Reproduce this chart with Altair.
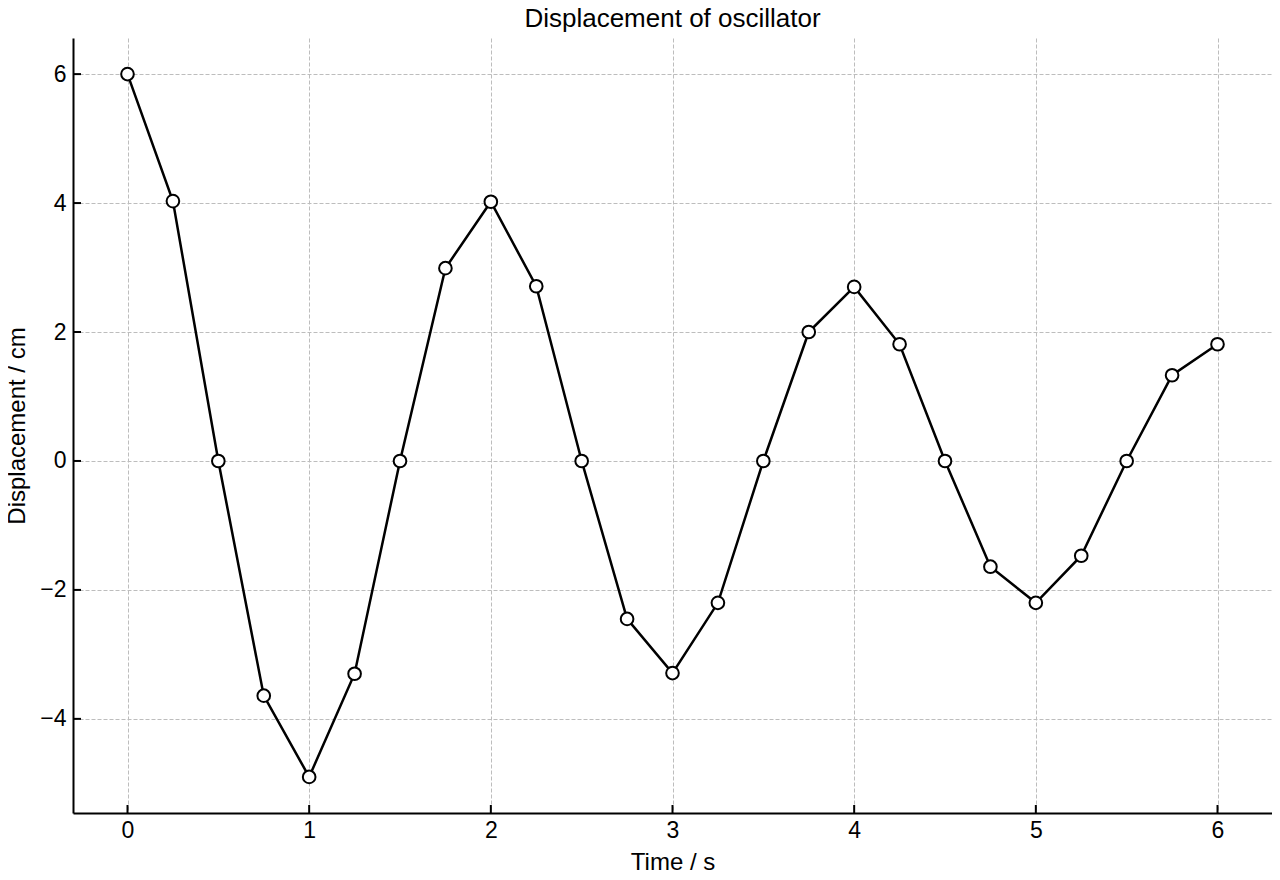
import pandas as pd
import altair as alt

# oscillator readings, every quarter second
time_s = [0, 0.25, 0.5, 0.75, 1, 1.25, 1.5, 1.75, 2, 2.25, 2.5, 2.75, 3,
          3.25, 3.5, 3.75, 4, 4.25, 4.5, 4.75, 5, 5.25, 5.5, 5.75, 6]
displacement_cm = [6.0, 4.03, 0.0, -3.64, -4.90, -3.30, 0.0, 2.99, 4.02, 2.71,
                   0.0, -2.45, -3.29, -2.20, 0.0, 2.0, 2.70, 1.81, 0.0, -1.64,
                   -2.20, -1.47, 0.0, 1.33, 1.81]

x_ticks = [0, 1, 2, 3, 4, 5, 6]
y_ticks = [-4, -2, 0, 2, 4, 6]

FONT = "Liberation Sans"
W, H = 1199, 775

df = pd.DataFrame({"t": time_s, "d": displacement_cm})
df_xt = pd.DataFrame({"t": x_ticks})
df_yt = pd.DataFrame({"d": y_ticks})

x_scale = alt.Scale(domain=[-0.3, 6.3], nice=False, zero=False)
y_scale = alt.Scale(domain=[-5.46, 6.56], nice=False, zero=False)

x_enc = alt.X(
    "t:Q",
    scale=x_scale,
    axis=alt.Axis(
        title="Time / s",
        values=x_ticks,
        format="d",
        grid=True,
        gridDash=[4, 2],
        gridColor="#bdbdbd",
        gridWidth=1,
        ticks=False,
        domainColor="black",
        domainWidth=2,
        labelPadding=6,
        titlePadding=8,
    ),
)
y_enc = alt.Y(
    "d:Q",
    scale=y_scale,
    axis=alt.Axis(
        title="Displacement / cm",
        values=y_ticks,
        format="d",
        grid=True,
        gridDash=[4, 2],
        gridColor="#bdbdbd",
        gridWidth=1,
        ticks=False,
        domainColor="black",
        domainWidth=2,
        labelPadding=7,
        titlePadding=10,
    ),
)

line = alt.Chart(df).mark_line(color="black", strokeWidth=2.5).encode(x=x_enc, y=y_enc)

points = alt.Chart(df).mark_point(
    shape="circle", filled=True, fill="white", stroke="black",
    strokeWidth=2, size=160, opacity=1,
).encode(x=alt.X("t:Q", scale=x_scale), y=alt.Y("d:Q", scale=y_scale))

# inward ticks (vega won't take a negative tickSize)
x_tick_marks = alt.Chart(df_xt).mark_rule(color="black", strokeWidth=2).encode(
    x=alt.X("t:Q", scale=x_scale),
    y=alt.value(H),
    y2=alt.value(H - 8),
)
y_tick_marks = alt.Chart(df_yt).mark_rule(color="black", strokeWidth=2).encode(
    y=alt.Y("d:Q", scale=y_scale),
    x=alt.value(0),
    x2=alt.value(8),
)

chart = (
    alt.layer(line, x_tick_marks, y_tick_marks, points)
    .properties(
        width=W,
        height=H,
        title=alt.TitleParams(
            "Displacement of oscillator",
            font=FONT,
            fontSize=26,
            fontWeight="normal",
            color="black",
            offset=6,
        ),
        padding={"left": 65, "top": 30, "right": 0, "bottom": 60},
        autosize=alt.AutoSizeParams(type="none"),
    )
    .configure_view(stroke=None)
    .configure_axis(
        labelFont=FONT,
        titleFont=FONT,
        labelFontSize=23,
        titleFontSize=24,
        titleFontWeight="normal",
        labelColor="black",
        titleColor="black",
    )
    .properties(background="white")
)

chart.save("out.html", embed_options={"renderer": "svg", "actions": False})
